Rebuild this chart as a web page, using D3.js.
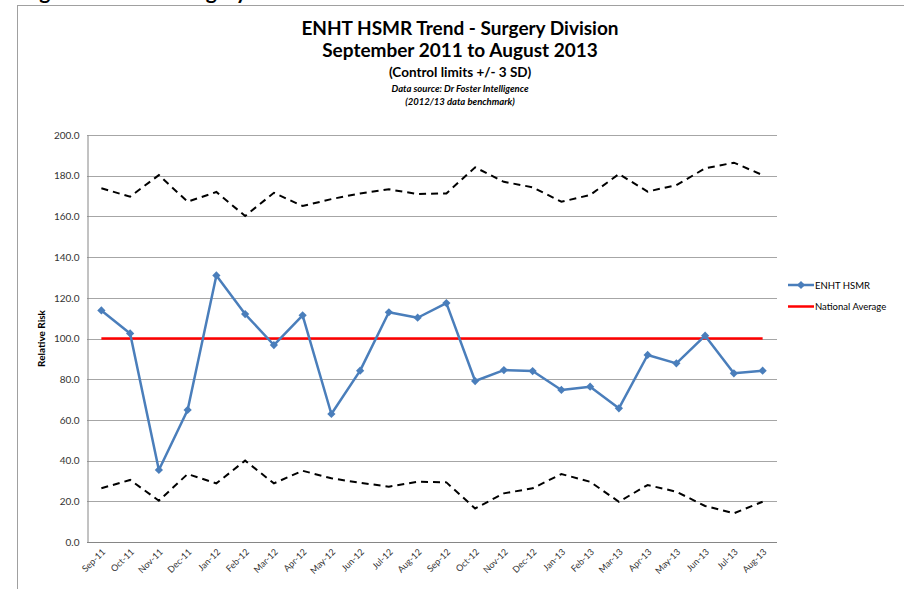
<!DOCTYPE html>
<html lang="en">
    <head>
        <meta charset="utf-8">
        <title>ENHT HSMR Trend - Surgery Division</title>
        <script type="text/javascript" src="https://cdn.jsdelivr.net/npm/d3@7"></script>
        <style>
            body { margin: 0; background: #fff; }
            text { font-family: Lato, "Open Sans", sans-serif; }
        </style>
    </head>
    <body>
        <script type="text/javascript">

            //Data
            var months = ["Sep-11", "Oct-11", "Nov-11", "Dec-11", "Jan-12", "Feb-12", "Mar-12", "Apr-12",
                          "May-12", "Jun-12", "Jul-12", "Aug-12", "Sep-12", "Oct-12", "Nov-12", "Dec-12",
                          "Jan-13", "Feb-13", "Mar-13", "Apr-13", "May-13", "Jun-13", "Jul-13", "Aug-13"];

            var hsmr = [113.8, 102.5, 35.4, 64.9, 131.0, 112.0, 96.8, 111.4, 62.9, 84.2, 112.9, 110.2,
                        117.4, 79.1, 84.5, 84.0, 74.7, 76.3, 65.7, 91.9, 87.8, 101.4, 82.9, 84.2];

            var upperLimit = [173.8, 169.7, 180.3, 167.2, 172.0, 160.2, 171.6, 165.1, 168.5, 171.3, 173.3, 171.0,
                              171.3, 184.1, 177.0, 174.3, 167.2, 170.5, 180.8, 172.2, 175.4, 183.6, 186.4, 180.3];

            var lowerLimit = [26.4, 30.5, 20.3, 33.4, 28.8, 40.0, 28.8, 35.0, 31.3, 29.1, 27.2, 29.6,
                              29.3, 16.5, 23.9, 26.4, 33.4, 29.6, 19.8, 28.0, 24.7, 17.7, 14.1, 19.8];

            var nationalAverage = 100;

            var yTicks = [0, 20, 40, 60, 80, 100, 120, 140, 160, 180, 200];

            //Width and height
            var w = 904;
            var h = 589;
            var plot = { left: 87, right: 777, top: 135, bottom: 542 };

            //Create SVG element
            var svg = d3.select("body")
                    .append("svg")
                    .attr("width", w)
                    .attr("height", h);

            //Chart border (page continues off the top and right)
            svg.append("rect")
                    .attr("x", 17.5)
                    .attr("y", 5.5)
                    .attr("width", 1000)
                    .attr("height", 700)
                    .attr("fill", "none")
                    .attr("stroke", "#a0a0a0");

            //Heading above the chart, mostly cut off in the original too
            svg.append("text")
                    .attr("x", 22)
                    .attr("y", -1)
                    .attr("font-size", "21px")
                    .attr("font-weight", "bold")
                    .attr("fill", "#000")
                    .text("Figure 8: HSMR Surgery Division");

            //Scales
            var xScale = d3.scalePoint()
                    .domain(months)
                    .range([plot.left, plot.right])
                    .padding(0.5);

            var yScale = d3.scaleLinear()
                    .domain([0, 200])
                    .range([plot.bottom, plot.top]);

            //Gridlines
            svg.append("g")
                    .selectAll("line")
                    .data(yTicks)
                    .enter()
                    .append("line")
                    .attr("x1", plot.left)
                    .attr("x2", plot.right)
                    .attr("y1", function (d) {
                        return Math.round(yScale(d)) + 0.5;
                    })
                    .attr("y2", function (d) {
                        return Math.round(yScale(d)) + 0.5;
                    })
                    .attr("stroke", "#a6a6a6")
                    .attr("stroke-width", 1);

            //Y axis
            var yAxis = d3.axisLeft(yScale)
                    .tickValues(yTicks)
                    .tickSize(0)
                    .tickPadding(8)
                    .tickFormat(d3.format(".1f"));

            var gy = svg.append("g")
                    .attr("transform", "translate(" + (plot.left + 0.5) + ",0)")
                    .call(yAxis);
            gy.select(".domain").attr("stroke", "#868686");
            gy.selectAll("text")
                    .attr("font-family", "Lato, sans-serif")
                    .attr("font-size", "10px")
                    .attr("fill", "#333");

            //X axis
            var xAxis = d3.axisBottom(xScale)
                    .tickSize(0)
                    .tickSizeOuter(0);

            var gx = svg.append("g")
                    .attr("transform", "translate(0," + (plot.bottom + 0.5) + ")")
                    .call(xAxis);
            gx.select(".domain")
                    .attr("d", "M" + plot.left + ",0H" + plot.right)
                    .attr("stroke", "#868686");
            gx.selectAll("text")
                    .attr("font-family", "Lato, sans-serif")
                    .attr("font-size", "9px")
                    .attr("fill", "#333")
                    .attr("text-anchor", "end")
                    .attr("dy", null)
                    .attr("y", 0)
                    .attr("transform", "translate(4,10) rotate(-45)");

            //Axis title
            svg.append("text")
                    .attr("transform", "translate(45," + ((plot.top + plot.bottom) / 2) + ") rotate(-90)")
                    .attr("text-anchor", "middle")
                    .attr("font-size", "10px")
                    .attr("font-weight", "bold")
                    .attr("fill", "#000")
                    .text("Relative Risk");

            //Control limits
            var line = d3.line()
                    .x(function (d, i) {
                        return xScale(months[i]);
                    })
                    .y(function (d) {
                        return yScale(d);
                    });

            [upperLimit, lowerLimit].forEach(function (limit) {
                svg.append("path")
                        .datum(limit)
                        .attr("d", line)
                        .attr("fill", "none")
                        .attr("stroke", "#000")
                        .attr("stroke-width", 2)
                        .attr("stroke-dasharray", "7,5");
            });

            //National average
            svg.append("line")
                    .attr("x1", xScale(months[0]))
                    .attr("x2", xScale(months[months.length - 1]))
                    .attr("y1", yScale(nationalAverage))
                    .attr("y2", yScale(nationalAverage))
                    .attr("stroke", "#ff0000")
                    .attr("stroke-width", 2.5);

            //HSMR series
            svg.append("path")
                    .datum(hsmr)
                    .attr("d", line)
                    .attr("fill", "none")
                    .attr("stroke", "#4a7ebb")
                    .attr("stroke-width", 2.5)
                    .attr("stroke-linejoin", "round");

            var diamond = d3.symbol().type(d3.symbolSquare).size(34);

            svg.selectAll("path.marker")
                    .data(hsmr)
                    .enter()
                    .append("path")
                    .attr("class", "marker")
                    .attr("d", diamond)
                    .attr("transform", function (d, i) {
                        return "translate(" + xScale(months[i]) + "," + yScale(d) + ") rotate(45)";
                    })
                    .attr("fill", "#4a7ebb");

            //Titles
            var titles = [
                { text: "ENHT HSMR Trend - Surgery Division", y: 35, size: 19, style: "normal" },
                { text: "September 2011 to August 2013", y: 57, size: 19, style: "normal" },
                { text: "(Control limits +/- 3 SD)", y: 77, size: 13.5, style: "normal" },
                { text: "Data source: Dr Foster Intelligence", y: 92, size: 9.5, style: "italic" },
                { text: "(2012/13 data benchmark)", y: 105, size: 9.5, style: "italic" }
            ];

            svg.selectAll("text.title")
                    .data(titles)
                    .enter()
                    .append("text")
                    .attr("class", "title")
                    .attr("x", 460)
                    .attr("y", function (d) {
                        return d.y;
                    })
                    .attr("text-anchor", "middle")
                    .attr("font-weight", "bold")
                    .attr("font-style", function (d) {
                        return d.style;
                    })
                    .attr("font-size", function (d) {
                        return d.size + "px";
                    })
                    .attr("fill", "#000")
                    .text(function (d) {
                        return d.text;
                    });

            //Legend
            var legend = svg.append("g")
                    .attr("transform", "translate(788,0)");

            legend.append("line")
                    .attr("x1", 0).attr("x2", 26)
                    .attr("y1", 285).attr("y2", 285)
                    .attr("stroke", "#4a7ebb")
                    .attr("stroke-width", 2.5);
            legend.append("path")
                    .attr("d", diamond)
                    .attr("transform", "translate(13,285) rotate(45)")
                    .attr("fill", "#4a7ebb");
            legend.append("text")
                    .attr("x", 27)
                    .attr("y", 288.5)
                    .attr("font-size", "9.5px")
                    .attr("fill", "#000")
                    .text("ENHT HSMR");

            legend.append("line")
                    .attr("x1", 0).attr("x2", 26)
                    .attr("y1", 306.5).attr("y2", 306.5)
                    .attr("stroke", "#ff0000")
                    .attr("stroke-width", 2.5);
            legend.append("text")
                    .attr("x", 27)
                    .attr("y", 310)
                    .attr("font-size", "9.5px")
                    .attr("fill", "#000")
                    .text("National Average");

        </script>
    </body>
</html>
